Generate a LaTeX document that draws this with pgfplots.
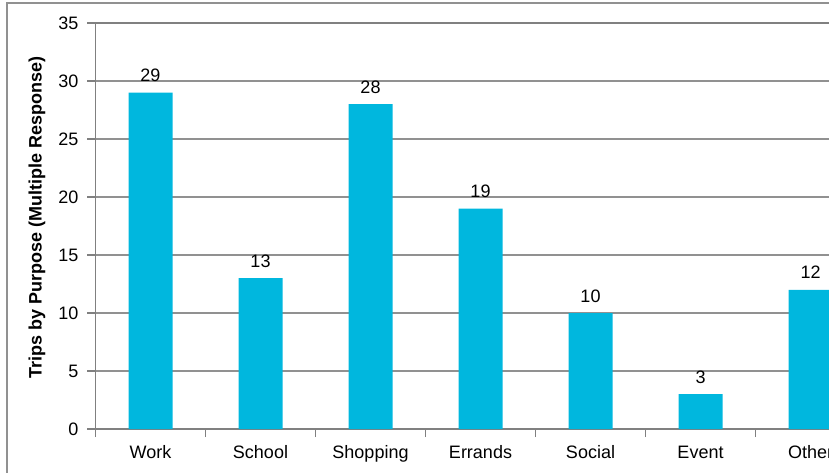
\documentclass[border=0pt]{standalone}
\usepackage{pgfplots}
\pgfplotsset{compat=1.18}
\usepackage{fontspec}
\setmainfont{Liberation Sans}
\definecolor{barcyan}{RGB}{0,183,222}
\definecolor{gridgray}{RGB}{145,145,145}
\definecolor{axisgray}{RGB}{128,128,128}

\begin{document}
\fontsize{18}{21}\selectfont
\begin{tikzpicture}[x=1pt,y=1pt]
\begin{axis}[
    at={(95.5pt,43pt)}, anchor=south west,
    x=110pt, y=11.6pt,
    xmin=-0.5, xmax=6.5,
    ymin=0, ymax=35,
    ybar, bar width=44pt,
    /pgf/number format/assume math mode=true,
    ytick={0,5,...,35},
    xtick={-0.5,0.5,...,5.5},
    xticklabels={Work,School,Shopping,Errands,Social,Event,Other},
    xticklabel style={xshift=55pt, yshift=-2pt, text height=13pt, text depth=4pt},
    yticklabel style={xshift=-3pt},
    xtick pos=bottom, ytick pos=left,
    tick align=outside,
    major tick length=8pt,
    tick style={axisgray, line width=1.2pt},
    axis line style={axisgray, line width=1.2pt},
    ymajorgrids,
    grid style={gridgray, line width=1.2pt},
    ylabel={\bfseries Trips by Purpose (Multiple Response)},
    ylabel style={at={(axis description cs:0,0.5)}, anchor=center, xshift=8.5pt, yshift=58.5pt},
    nodes near coords,
    every node near coord/.append style={anchor=base, yshift=11pt, inner sep=0pt, black},
]
\addplot[fill=barcyan, draw=none] coordinates {
    (0,29) (1,13) (2,28) (3,19) (4,10) (5,3) (6,12)
};
\end{axis}
\draw[gridgray, line width=1.5pt] (7,-10) -- (7,469) -- (900,469);
\pgfresetboundingbox
\useasboundingbox (0,0) rectangle (829,472);
\end{tikzpicture}
\end{document}
